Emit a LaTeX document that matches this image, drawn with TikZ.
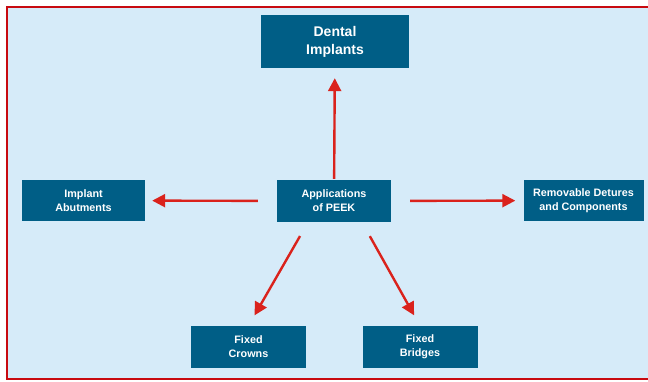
\documentclass[tikz,border=0pt]{standalone}
\usepackage{fontspec}
\setmainfont{Liberation Sans}
\usetikzlibrary{arrows.meta}
\definecolor{boxblue}{RGB}{0,94,134}
\definecolor{bgblue}{RGB}{214,235,249}
\definecolor{arrred}{RGB}{218,34,28}
\definecolor{framered}{RGB}{200,10,16}
\begin{document}
\begin{tikzpicture}[x=1pt,y=-1pt]
\tikzset{box/.style = {fill=boxblue, text=white, font=\bfseries\fontsize{10.8}{14}\selectfont, align=center, inner sep=0pt},
 arr/.style = {draw=arrred, line width=2.4pt, -{Triangle[length=13pt,width=13pt]}}}
\useasboundingbox (0,0) rectangle (648,381);
\clip (0,0) rectangle (648,381);
\draw[framered, line width=2.6pt, fill=bgblue] (7,7) rectangle (655,379); % cadre
\node[box, minimum width=148pt, minimum height=53pt, font=\bfseries\fontsize{14}{18}\selectfont] (dental) at (335,41.5) {Dental\\Implants};
\node[box, minimum width=114pt, minimum height=42pt] (peek) at (334,201) {Applications\\of PEEK};
\node[box, minimum width=123pt, minimum height=41pt] (abut) at (83.5,200.5) {Implant\\Abutments};
\node[box, minimum width=120pt, minimum height=41pt] (remov) at (583.5,200.5) {Removable Detures\\and Components};
\node[box, minimum width=115pt, minimum height=42pt] (crown) at (248.5,347) {Fixed\\Crowns};
\node[box, minimum width=115pt, minimum height=42pt] (bridge) at (420,347) {Fixed\\Bridges};
\draw[arr, shorten <=1pt, shorten >=10pt] (peek) -- (dental); % haut
\draw[arr, shorten <=19pt, shorten >=7pt] (peek) -- (abut); % gauche
\draw[arr, shorten <=19pt, shorten >=8pt] (peek) -- (remov); % droite
\draw[arr, shorten <=16pt, shorten >=12pt] ([xshift=-26pt]peek.south) -- (crown.north); % bas gauche
\draw[arr, shorten <=16pt, shorten >=12pt] ([xshift=28pt]peek.south) -- (bridge.north); % bas droite
\end{tikzpicture}
\end{document}
